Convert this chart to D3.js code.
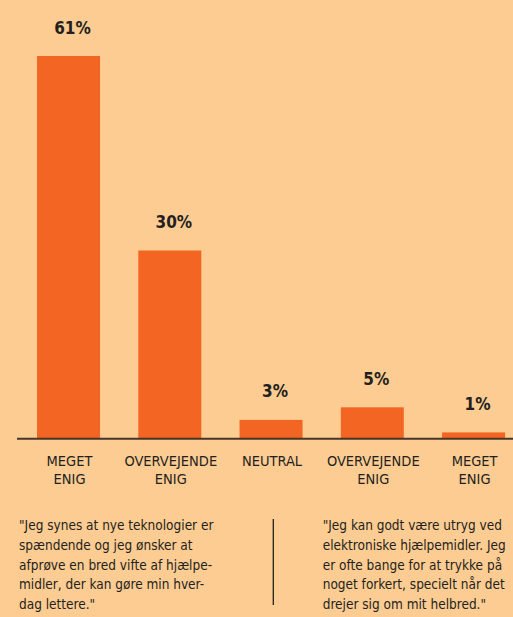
<!DOCTYPE html>
<html lang='da'>
<head>
	<meta charset='UTF-8'/>
	<title>D3: Holdning til hjælpemidler</title>
	<script src='https://cdnjs.cloudflare.com/ajax/libs/d3/7.8.5/d3.min.js'></script>
	<style>
		body {margin: 0; background: #FDCC92;}
		svg {display: block; background: #FDCC92;}
		text {font-family: 'Liberation Sans Narrow', 'DejaVu Sans Condensed', sans-serif; fill: #231F20;}
		.value {font-size: 17px; font-weight: bold;}
		.cat {font-size: 14.5px;}
		.quote {font-size: 13.5px;}
	</style>
</head>
<body>
	<div class='graph'></div>
	<script>
		var width = 513;
		var height = 617;

		// data
		const categories = ['MEGET\nENIG', 'OVERVEJENDE\nENIG', 'NEUTRAL', 'OVERVEJENDE\nENIG', 'MEGET\nENIG'];
		const values = [61, 30, 3, 5, 1];
		const valueLabels = ['61%', '30%', '3%', '5%', '1%'];
		const leftQuote = [
			'"Jeg synes at nye teknologier er',
			'spændende og jeg ønsker at',
			'afprøve en bred vifte af hjælpe-',
			'midler, der kan gøre min hver-',
			'dag lettere."'
		];
		const rightQuote = [
			'"Jeg kan godt være utryg ved',
			'elektroniske hjælpemidler. Jeg',
			'er ofte bange for at trykke på',
			'noget forkert, specielt når det',
			'drejer sig om mit helbred."'
		];

		var baseY = 438.7;

		var svg = d3.select('.graph')
			.append('svg')
			.attr('width', width)
			.attr('height', height);

		// scales
		const X_SCALE = d3.scaleBand()
			.domain(d3.range(categories.length))
			.range([17.9, 524.2])
			.paddingInner(0.378)
			.paddingOuter(0.189);
		const Y_SCALE = d3.scaleLinear()
			.domain([0, 61])
			.range([baseY, 56]);

		// bars
		svg.selectAll('rect.bar')
			.data(values)
			.enter()
			.append('rect')
			.attr('class', 'bar')
			.attr('x', (d, i) => X_SCALE(i))
			.attr('width', X_SCALE.bandwidth())
			.attr('y', d => Y_SCALE(d))
			.attr('height', d => baseY - Y_SCALE(d))
			.attr('fill', '#F26522');

		// baseline
		svg.append('line')
			.attr('x1', 17)
			.attr('x2', width)
			.attr('y1', baseY)
			.attr('y2', baseY)
			.attr('stroke', '#45352A')
			.attr('stroke-width', 2);

		// value labels
		svg.selectAll('text.value')
			.data(values)
			.enter()
			.append('text')
			.attr('class', 'value')
			.attr('text-anchor', 'middle')
			.attr('x', (d, i) => X_SCALE(i) + X_SCALE.bandwidth() / 2 + 4)
			.attr('y', d => Y_SCALE(d) - 22.5)
			.text((d, i) => valueLabels[i]);

		// category labels
		categories.forEach((c, i) => {
			let t = svg.append('text')
				.attr('class', 'cat')
				.attr('text-anchor', 'middle')
				.attr('x', X_SCALE(i) + X_SCALE.bandwidth() / 2 + 1)
				.attr('y', 465.7);
			c.split('\n').forEach((line, j) => {
				t.append('tspan')
					.attr('x', X_SCALE(i) + X_SCALE.bandwidth() / 2 + 1)
					.attr('dy', j === 0 ? 0 : 18.5)
					.text(line);
			});
		});

		// quotes
		function quote(lines, x) {
			let t = svg.append('text')
				.attr('class', 'quote')
				.attr('x', x)
				.attr('y', 530);
			lines.forEach((line, j) => {
				t.append('tspan')
					.attr('x', x)
					.attr('dy', j === 0 ? 0 : 19.8)
					.text(line);
			});
		}
		quote(leftQuote, 19);
		quote(rightQuote, 322.7);

		// divider
		svg.append('line')
			.attr('x1', 273.3)
			.attr('x2', 273.3)
			.attr('y1', 519)
			.attr('y2', 605)
			.attr('stroke', '#231F20')
			.attr('stroke-width', 1.3);
	</script>
</body>
</html>
